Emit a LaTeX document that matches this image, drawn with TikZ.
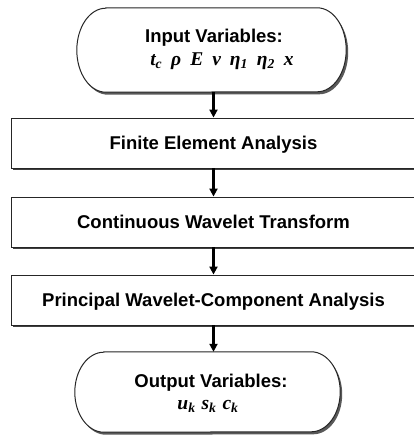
\documentclass[tikz,border=0pt]{standalone}
\usepackage{fontspec}
\setmainfont{Liberation Sans}
\newfontfamily\varfont{Liberation Serif}
\usetikzlibrary{shadows,arrows.meta}
\newcommand\ttlfont{\fontsize{18.5}{22}\selectfont\bfseries}
\newcommand\varsfont{\fontsize{19.5}{23}\selectfont\varfont\bfseries\itshape}
\newcommand\vgap{\hspace{9pt}}
\begin{document}
\begin{tikzpicture}[x=1pt,y=-1pt,
  stepbox/.style={draw=black!85, line width=0.9pt, fill=white, minimum width=405pt, minimum height=50pt,
    inner sep=0pt, font=\ttlfont, text height=13.3pt, text depth=0pt,
    drop shadow={shadow xshift=1.5pt, shadow yshift=-2.2pt, fill=black!75, opacity=1}},
  termframe/.style={rectangle, inner sep=0pt, minimum width=#1, minimum height=84pt},
  termline/.style={draw=black!85, line width=1pt, fill=white,
    drop shadow={shadow xshift=2pt, shadow yshift=-2.5pt, fill=black!65, opacity=1}},
  arr/.style={line width=2.2pt, -{Triangle[length=8pt,width=8pt]}},
  txt/.style={anchor=base, inner sep=0pt}
]
\useasboundingbox (0,0) rectangle (414,436);

% input terminator
\node[termframe=269pt] (in) at (211.5,50) {};
\draw[termline] ([xshift=29pt]in.north west) -- ([xshift=-29pt]in.north east)
  arc[start angle=90, end angle=-90, x radius=29pt, y radius=42pt]
  -- ([xshift=29pt]in.south west)
  arc[start angle=270, end angle=90, x radius=29pt, y radius=42pt] -- cycle;
\node[txt, font=\ttlfont] (inT) at (214,43) {Input Variables:};
\node[txt, font=\varsfont] (inV) at (222,65) {t\textsubscript{c}\vgap ρ\vgap E\vgap ν\vgap η\textsubscript{1}\vgap η\textsubscript{2}\vgap x};

% process boxes
\node[stepbox] (fea) at (213.5,143) {Finite Element Analysis};
\node[stepbox] (cwt) at (213.5,222) {Continuous Wavelet Transform};
\node[stepbox] (pwca) at (213.5,300) {Principal Wavelet-Component Analysis};

% output terminator
\node[termframe=265pt, minimum height=80pt] (out) at (207.5,392) {};
\draw[termline] ([xshift=29pt]out.north west) -- ([xshift=-29pt]out.north east)
  arc[start angle=90, end angle=-90, x radius=29pt, y radius=40pt]
  -- ([xshift=29pt]out.south west)
  arc[start angle=270, end angle=90, x radius=29pt, y radius=40pt] -- cycle;
\node[txt, font=\ttlfont] (outT) at (211,387) {Output Variables:};
\node[txt, font=\varsfont] (outV) at (208,409) {u\textsubscript{k}\hspace{6pt}s\textsubscript{k}\hspace{6pt}c\textsubscript{k}};

% connectors
\draw[arr] (in.south -| fea.north) -- (fea.north);
\draw[arr] (fea.south) -- (cwt.north);
\draw[arr] (cwt.south) -- (pwca.north);
\draw[arr] (pwca.south) -- (pwca.south |- out.north);
\end{tikzpicture}
\end{document}
